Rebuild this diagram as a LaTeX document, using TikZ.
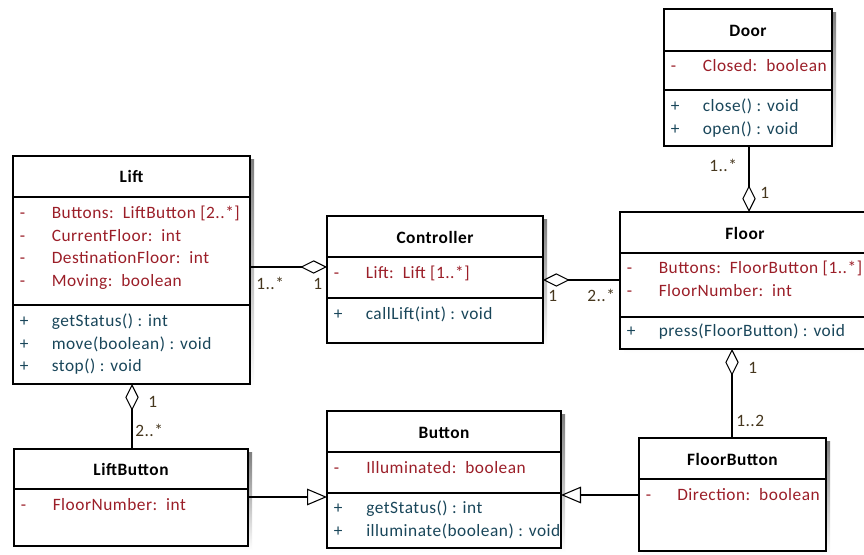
\documentclass[tikz,border=0pt]{standalone}
\usepackage{fontspec}
\setmainfont{Carlito}[LetterSpace=3]
\usetikzlibrary{arrows.meta}
\definecolor{attr}{RGB}{155,30,40}
\definecolor{meth}{RGB}{25,70,90}
\definecolor{mult}{RGB}{70,55,30}
\definecolor{shade}{RGB}{175,175,175}
\tikzset{
  boxshape/.style={draw=black, line width=0.9pt, fill=white, inner sep=0pt, outer sep=0pt, anchor=north west},
  sepline/.style={line width=0.9pt},
  txt/.style={anchor=base west, inner sep=0pt, font=\fontsize{13}{15}\selectfont},
  ttl/.style={anchor=base, inner sep=0pt, font=\fontsize{13}{15}\selectfont\bfseries},
  att/.style={txt, text=attr},
  mth/.style={txt, text=meth},
  mlt/.style={txt, text=mult},
  conn/.style={line width=0.8pt, draw=black},
  agg/.style={conn, -{Diamond[open, length=20pt, width=10pt, line width=0.8pt]}},
  gen/.style={conn, -{Triangle[open, length=15pt, width=12.5pt, line width=0.8pt]}},
}
\newcommand\umlclass[6]{%
  \fill[shade] (#2+4,#3+4) rectangle (#4+4,#5+4);
  \node[boxshape, minimum width={(#4-#2)*0.75pt}, minimum height={(#5-#3)*0.75pt}] (#1) at (#2,#3) {};
  \draw[sepline] (#1.west |- 0,#6) -- (#1.east |- 0,#6);
}
\begin{document}
\begin{tikzpicture}[x=0.75pt,y=-0.75pt]
\useasboundingbox (0,0) rectangle (864,555);
\fill[white] (0,0) rectangle (864,555);

% Door
\umlclass{door}{664}{9}{832}{146}{51}
\draw[sepline] (door.west |- 0,90) -- (door.east |- 0,90);
\node[ttl] (doorT) at (748,37) {Door};
\node[att] (doorA1m) at (670.5,72) {-};
\node[att] (doorA1) at (702.5,72) {Closed:\ \ boolean};
\node[mth] (doorM1m) at (670.5,112) {+};
\node[mth] (doorM1) at (702.5,112) {close() : void};
\node[mth] (doorM2m) at (670.5,134.5) {+};
\node[mth] (doorM2) at (702.5,134.5) {open() : void};

% Lift
\umlclass{lift}{13}{156}{250}{384}{197}
\draw[sepline] (lift.west |- 0,305) -- (lift.east |- 0,305);
\node[ttl] (liftT) at (131.5,183) {Lift};
\node[att] (liftA1m) at (19.5,219) {-};
\node[att] (liftA1) at (51.5,219) {Buttons:\ \ LiftButton [2..*]};
\node[att] (liftA2m) at (19.5,241.5) {-};
\node[att] (liftA2) at (51.5,241.5) {CurrentFloor:\ \ int};
\node[att] (liftA3m) at (19.5,264) {-};
\node[att] (liftA3) at (51.5,264) {DestinationFloor:\ \ int};
\node[att] (liftA4m) at (19.5,286.5) {-};
\node[att] (liftA4) at (51.5,286.5) {Moving:\ \ boolean};
\node[mth] (liftM1m) at (19.5,327) {+};
\node[mth] (liftM1) at (51.5,327) {getStatus() : int};
\node[mth] (liftM2m) at (19.5,349.5) {+};
\node[mth] (liftM2) at (51.5,349.5) {move(boolean) : void};
\node[mth] (liftM3m) at (19.5,372) {+};
\node[mth] (liftM3) at (51.5,372) {stop() : void};

% Controller
\umlclass{ctrl}{327}{216}{543}{343}{257}
\draw[sepline] (ctrl.west |- 0,298) -- (ctrl.east |- 0,298);
\node[ttl] (ctrlT) at (435,244) {Controller};
\node[att] (ctrlA1m) at (333.5,279) {-};
\node[att] (ctrlA1) at (365.5,279) {Lift:\ \ Lift [1..*]};
\node[mth] (ctrlM1m) at (333.5,319.5) {+};
\node[mth] (ctrlM1) at (365.5,319.5) {callLift(int) : void};

% Floor
\umlclass{floor}{620}{212}{870}{349}{253}
\draw[sepline] (floor.west |- 0,317) -- (floor.east |- 0,317);
\node[ttl] (floorT) at (745,239.5) {Floor};
\node[att] (floorA1m) at (626.5,274) {-};
\node[att] (floorA1) at (658.5,274) {Buttons:\ \ FloorButton [1..*]};
\node[att] (floorA2m) at (626.5,296.5) {-};
\node[att] (floorA2) at (658.5,296.5) {FloorNumber:\ \ int};
\node[mth] (floorM1m) at (626.5,337) {+};
\node[mth] (floorM1) at (658.5,337) {press(FloorButton) : void};

% LiftButton
\umlclass{liftbtn}{14}{449}{248}{546}{489}
\node[ttl] (liftbtnT) at (131,476) {LiftButton};
\node[att] (liftbtnA1m) at (20.5,511) {-};
\node[att] (liftbtnA1) at (52.5,511) {FloorNumber:\ \ int};

% Button
\umlclass{button}{327}{411}{561}{548}{452}
\draw[sepline] (button.west |- 0,493) -- (button.east |- 0,493);
\node[ttl] (buttonT) at (444,439) {Button};
\node[att] (buttonA1m) at (333.5,474) {-};
\node[att] (buttonA1) at (366,474) {Illuminated:\ \ boolean};
\node[mth] (buttonM1m) at (333.5,514) {+};
\node[mth] (buttonM1) at (366,514) {getStatus() : int};
\node[mth] (buttonM2m) at (333.5,536.5) {+};
\node[mth] (buttonM2) at (366,536.5) {illuminate(boolean) : void};

% FloorButton
\umlclass{floorbtn}{639}{438}{826}{551}{479}
\node[ttl] (floorbtnT) at (732.5,466) {FloorButton};
\node[att] (floorbtnA1m) at (645.5,501) {-};
\node[att] (floorbtnA1) at (677,501) {Direction:\ \ boolean};

% connectors
\draw[agg] (lift.east |- 0,267) -- (ctrl.west |- 0,267);
\draw[agg] (floor.west |- 0,280) -- (ctrl.east |- 0,280);
\draw[agg] (door.south -| 749,0) -- (floor.north -| 749,0);
\draw[agg] (liftbtn.north -| 132,0) -- (lift.south -| 132,0);
\draw[agg] (floorbtn.north -| 732,0) -- (floor.south -| 732,0);
\draw[gen] (liftbtn.east |- 0,497) -- (button.west |- 0,497);
\draw[gen] (floorbtn.west |- 0,495) -- (button.east |- 0,495);

% multiplicities
\node[mlt] (m1) at (256,290) {1..*};
\node[mlt] (m2) at (313,290) {1};
\node[mlt] (m3) at (548,302) {1};
\node[mlt] (m4) at (587,302) {2..*};
\node[mlt] (m5) at (709,172) {1..*};
\node[mlt] (m6) at (760,199) {1};
\node[mlt] (m7) at (148,408) {1};
\node[mlt] (m8) at (135,437) {2..*};
\node[mlt] (m9) at (748,374) {1};
\node[mlt] (m10) at (736,427) {1..2};
\end{tikzpicture}
\end{document}
